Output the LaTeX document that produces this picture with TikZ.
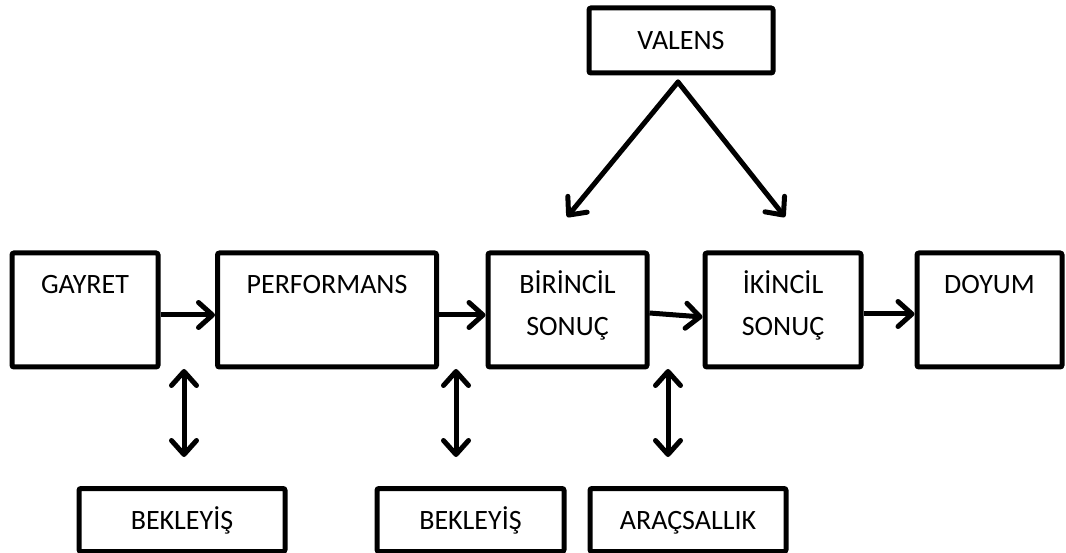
\documentclass[tikz,border=0pt]{standalone}
\usepackage{fontspec}
\setmainfont{Carlito}
\usetikzlibrary{arrows.meta}
\begin{document}
\begin{tikzpicture}[x=1pt,y=-1pt,
  box/.style={draw, line width=5pt, rounded corners=2pt, minimum height=114pt, inner sep=0pt},
  sbox/.style={draw, line width=5pt, rounded corners=2pt, minimum height=63pt, inner sep=0pt},
  lbl/.style={anchor=base, font=\fontsize{28}{34}\selectfont, inner sep=0pt},
  tip/.tip={Straight Barb[length=14pt,width=25pt,round]},
  arr/.style={line width=5pt, -tip},
  darr/.style={line width=5pt, tip-tip}
]
\useasboundingbox (0,0) rectangle (1066,553);
% boxes
\node[box, minimum width=146pt] (gay) at (85,310) {};
\node[box, minimum width=219pt] (perf) at (327,310) {};
\node[box, minimum width=159pt] (bir) at (567.5,310) {};
\node[box, minimum width=156pt] (iki) at (783,310) {};
\node[box, minimum width=145pt] (doy) at (989.5,310) {};
\node[sbox, minimum width=184pt, minimum height=65pt] (val) at (681,40.5) {};
\node[sbox, minimum width=206pt] (bek1) at (182,520) {};
\node[sbox, minimum width=187pt] (bek2) at (470.5,520) {};
\node[sbox, minimum width=196pt] (ara) at (688,520) {};
% labels
\node[lbl] (gayt) at (85,294) {GAYRET};
\node[lbl] (perft) at (327,294) {PERFORMANS};
\node[lbl] (birt1) at (567.5,294) {BİRİNCİL};
\node[lbl] (birt2) at (567.5,336) {SONUÇ};
\node[lbl] (ikit1) at (783,294) {İKİNCİL};
\node[lbl] (ikit2) at (783,336) {SONUÇ};
\node[lbl] (doyt) at (989.5,294) {DOYUM};
\node[lbl] (valt) at (681,50) {VALENS};
\node[lbl] (bek1t) at (182,529) {BEKLEYİŞ};
\node[lbl] (bek2t) at (470.5,529) {BEKLEYİŞ};
\node[lbl] (arat) at (688,529) {ARAÇSALLIK};
% horizontal arrows
\draw[arr] ([yshift=-5pt]gay.east) -- ([yshift=-5pt]perf.west);
\draw[arr] ([yshift=-5pt]perf.east) -- ([yshift=-5pt]bir.west);
\draw[arr] ([yshift=-3pt]bir.east) -- ([yshift=-7pt]iki.west);
\draw[arr] ([yshift=-4pt]iki.east) -- ([yshift=-4pt]doy.west);
% valens arrows
\coordinate (vapex) at (678,82);
\coordinate (vl) at (567,217);
\coordinate (vr) at (785,217);
\draw[arr, line cap=round] (vapex) -- (vl);
\draw[arr, line cap=round] (vapex) -- (vr);
% double arrows
\coordinate (d1t) at (184,369);
\coordinate (d1b) at (184,457);
\coordinate (d2t) at (456,369);
\coordinate (d2b) at (456,457);
\coordinate (d3t) at (668,369);
\coordinate (d3b) at (668,457);
\draw[darr] (d1t) -- (d1b);
\draw[darr] (d2t) -- (d2b);
\draw[darr] (d3t) -- (d3b);
\end{tikzpicture}
\end{document}
